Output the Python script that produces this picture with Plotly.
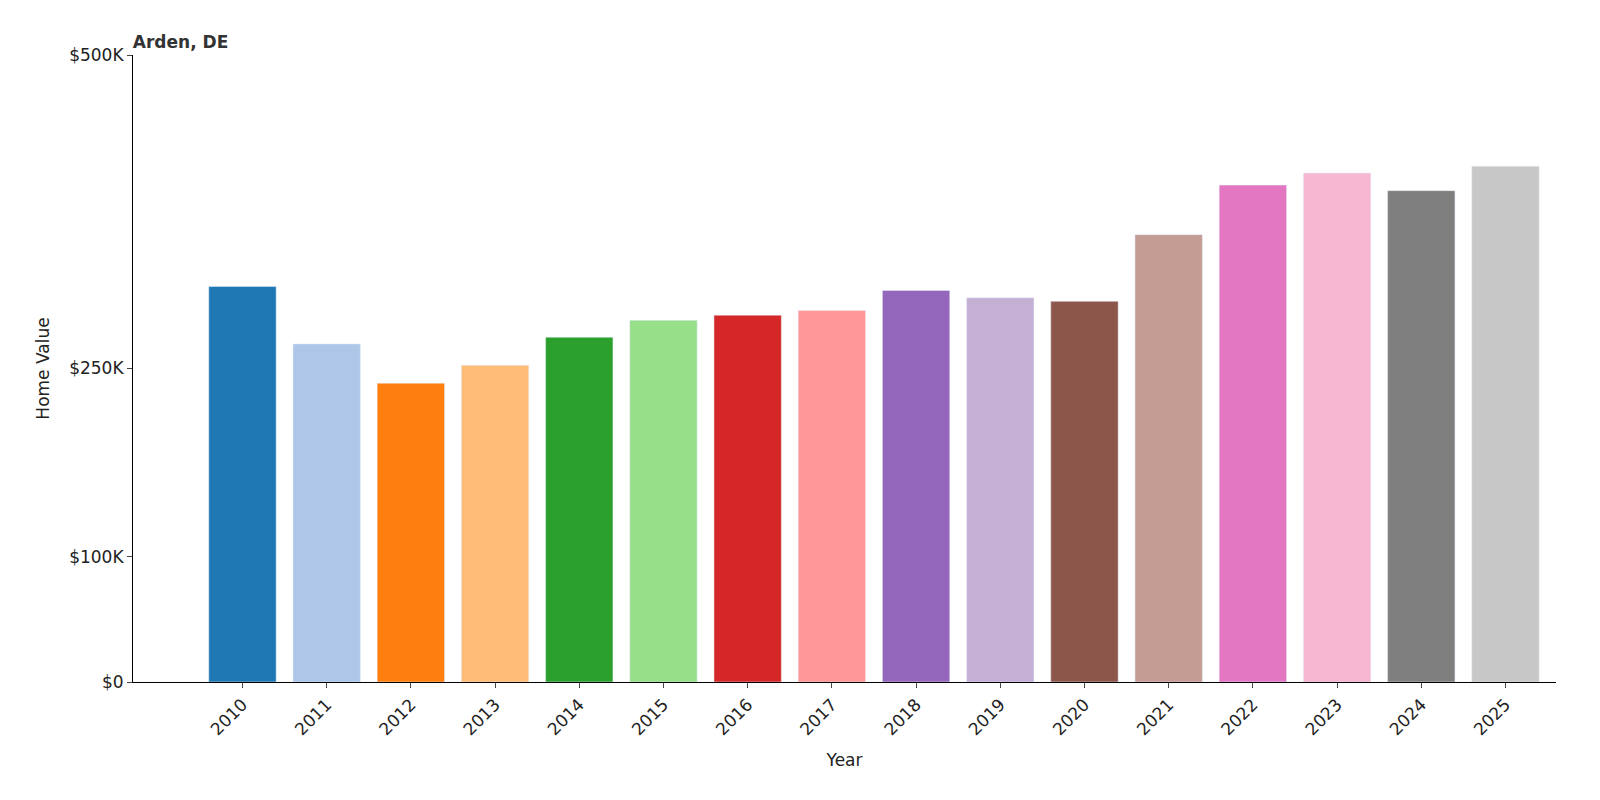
import plotly.graph_objects as go

years = [str(y) for y in range(2010, 2026)]
values = [315365, 269601, 238291, 252598, 274928, 288433, 292522, 296324,
          312271, 306400, 303554, 356702, 396244, 405866, 391837, 411267]
changes = ["", "-14.5%", "-11.6%", "+6.0%", "+8.8%", "+4.9%", "+1.4%", "+1.3%",
           "+5.4%", "-1.9%", "-0.9%", "+17.5%", "+11.1%", "+2.4%", "-3.5%", "+5.0%"]
colors = ["#1f77b4", "#aec7e8", "#ff7f0e", "#ffbb78", "#2ca02c", "#98df8a",
          "#d62728", "#ff9896", "#9467bd", "#c5b0d5", "#8c564b", "#c49c94",
          "#e377c2", "#f7b6d2", "#7f7f7f", "#c7c7c7"]
tick_vals = [0, 100000, 250000, 500000]
tick_text = ["$0", "$100K", "$250K", "$500K"]

fig = go.Figure(go.Bar(x=years, y=values, marker_color=colors, width=0.8))

for yr, v, c in zip(years, values, changes):
    txt = f"${v:,}" + (f"<br>({c})" if c else "")
    fig.add_annotation(x=yr, y=v, text=txt, textangle=-90, showarrow=False,
                       yanchor="bottom", yshift=4, font=dict(size=11, color="#333"))

fig.update_layout(
    width=1600, height=800, plot_bgcolor="white", paper_bgcolor="white",
    font=dict(family="DejaVu Sans", color="#222"),
    margin=dict(l=125, r=52, t=47, b=126),
    showlegend=False, bargap=0.2,
    title=dict(text="<b>Arden, DE</b>", x=0.078, xanchor="left", y=0.965,
               font=dict(size=17, color="#333")),
    xaxis=dict(title=dict(text="Year", font=dict(size=17)), tickangle=-45,
               tickfont=dict(size=17), showline=True, linecolor="black",
               ticks="outside", ticklen=5, range=[-1.3, 15.6]),
    yaxis=dict(title=dict(text="Home Value", font=dict(size=17)), range=[0, 500000],
               tickvals=tick_vals, ticktext=tick_text, tickfont=dict(size=17),
               showline=True, linecolor="black", ticks="outside", ticklen=5,
               showgrid=False, zeroline=False),
)

fig.write_html("out.html")
